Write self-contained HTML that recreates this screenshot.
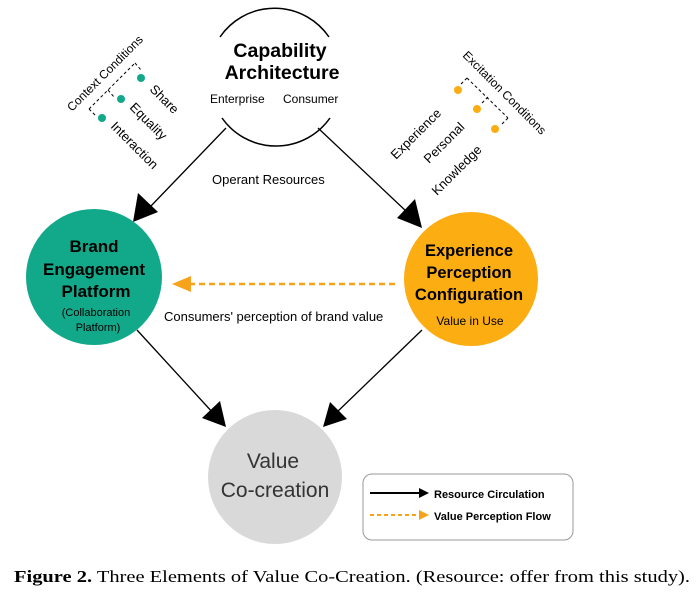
<!DOCTYPE html>
<html><head><style>body{margin:0;background:#fff}svg{display:block}</style></head><body>
<svg width="700" height="592" viewBox="0 0 700 592" xmlns="http://www.w3.org/2000/svg" font-family="'Liberation Sans',sans-serif">
<!-- top circle arcs -->
<path d="M220,37 A66,66 0 0 1 329,37" fill="none" stroke="#000" stroke-width="1.5"/>
<path d="M222,118 A66,66 0 0 0 330,118" fill="none" stroke="#000" stroke-width="1.5"/>
<text x="280" y="57" font-size="19.5" font-weight="bold" text-anchor="middle">Capability</text>
<text x="282" y="79" font-size="19.5" font-weight="bold" text-anchor="middle">Architecture</text>
<text x="210" y="103" font-size="12">Enterprise</text>
<text x="283" y="103" font-size="12">Consumer</text>
<text x="212" y="184" font-size="13">Operant Resources</text>
<!-- arrows from top -->
<line x1="226" y1="128" x2="150" y2="207" stroke="#000" stroke-width="1.3"/>
<path d="M133,222 L138,193 L158,212 Z" fill="#000"/>
<line x1="318" y1="128" x2="407" y2="212" stroke="#000" stroke-width="1.3"/>
<path d="M422,228 L397,218 L415,199 Z" fill="#000"/>
<!-- circles -->
<circle cx="94" cy="277" r="68" fill="#12a98a"/>
<text x="94" y="252" font-size="17" font-weight="bold" text-anchor="middle">Brand</text>
<text x="94" y="275" font-size="17" font-weight="bold" text-anchor="middle">Engagement</text>
<text x="96" y="297" font-size="17" font-weight="bold" text-anchor="middle">Platform</text>
<text x="96" y="316" font-size="11" text-anchor="middle">(Collaboration</text>
<text x="98" y="331" font-size="11" text-anchor="middle">Platform)</text>
<circle cx="471" cy="279" r="67" fill="#fbad12"/>
<text x="469" y="256" font-size="16.5" font-weight="bold" text-anchor="middle">Experience</text>
<text x="469" y="278" font-size="16.5" font-weight="bold" text-anchor="middle">Perception</text>
<text x="469" y="300" font-size="16.5" font-weight="bold" text-anchor="middle">Configuration</text>
<text x="470" y="325" font-size="12" text-anchor="middle">Value in Use</text>
<circle cx="275" cy="477" r="67" fill="#d9d9d9"/>
<text x="273" y="468" font-size="21" fill="#333" text-anchor="middle">Value</text>
<text x="275" y="497" font-size="21" fill="#333" text-anchor="middle">Co-creation</text>
<!-- dashed arrow -->
<line x1="395" y1="284" x2="190" y2="284" stroke="#f7a21b" stroke-width="2.5" stroke-dasharray="6,4"/>
<path d="M172,284 L191,276 L191,292 Z" fill="#f7a21b"/>
<text x="164" y="321" font-size="13">Consumers' perception of brand value</text>
<!-- to grey -->
<line x1="137" y1="330" x2="214" y2="414" stroke="#000" stroke-width="1.3"/>
<path d="M226,427 L202,418 L220,401 Z" fill="#000"/>
<line x1="422" y1="330" x2="335" y2="414" stroke="#000" stroke-width="1.3"/>
<path d="M323,427 L330,402 L347,419 Z" fill="#000"/>
<!-- context conditions -->
<text transform="translate(72,112) rotate(-45)" font-size="12">Context Conditions</text>
<path d="M89,109 L135,63 M135,63 L141,70 M108,90 L114,97 M89,109 L96,116" fill="none" stroke="#000" stroke-width="1" stroke-dasharray="3,2.5"/>
<circle cx="141" cy="78" r="4" fill="#12a98a"/>
<circle cx="121" cy="99" r="4" fill="#12a98a"/>
<circle cx="102" cy="118" r="4" fill="#12a98a"/>
<text transform="translate(149,90) rotate(45)" font-size="13">Share</text>
<text transform="translate(129,108) rotate(45)" font-size="13">Equality</text>
<text transform="translate(110,127) rotate(45)" font-size="13">Interaction</text>
<!-- excitation conditions -->
<text transform="translate(462,56) rotate(45)" font-size="12">Excitation Conditions</text>
<path d="M467,78 L508,118 M467,78 L461,84 M488,97 L482,103 M508,118 L502,124" fill="none" stroke="#000" stroke-width="1" stroke-dasharray="3,2.5"/>
<circle cx="458" cy="90" r="4" fill="#fbad12"/>
<circle cx="477" cy="109" r="4" fill="#fbad12"/>
<circle cx="495" cy="129" r="4" fill="#fbad12"/>
<text transform="translate(396,160) rotate(-45)" font-size="13">Experience</text>
<text transform="translate(429,164) rotate(-45)" font-size="13">Personal</text>
<text transform="translate(437,196) rotate(-45)" font-size="13">Knowledge</text>
<!-- legend -->
<rect x="363" y="474" width="210" height="66" rx="9" fill="#fff" stroke="#999" stroke-width="1"/>
<line x1="370" y1="493" x2="422" y2="493" stroke="#000" stroke-width="2"/>
<path d="M429,493 L419,488 L419,498 Z" fill="#000"/>
<text x="434" y="498" font-size="11" font-weight="bold">Resource Circulation</text>
<line x1="370" y1="515" x2="420" y2="515" stroke="#f7a21b" stroke-width="2" stroke-dasharray="4,3"/>
<path d="M429,515 L419,510 L419,520 Z" fill="#f7a21b"/>
<text x="434" y="520" font-size="11" font-weight="bold">Value Perception Flow</text>
<!-- caption -->
<text x="14" y="582" font-size="17" font-family="'Liberation Serif',serif" textLength="676" lengthAdjust="spacingAndGlyphs"><tspan font-weight="bold">Figure 2.</tspan> Three Elements of Value Co-Creation. (Resource: offer from this study).</text>
</svg>
</body></html>
